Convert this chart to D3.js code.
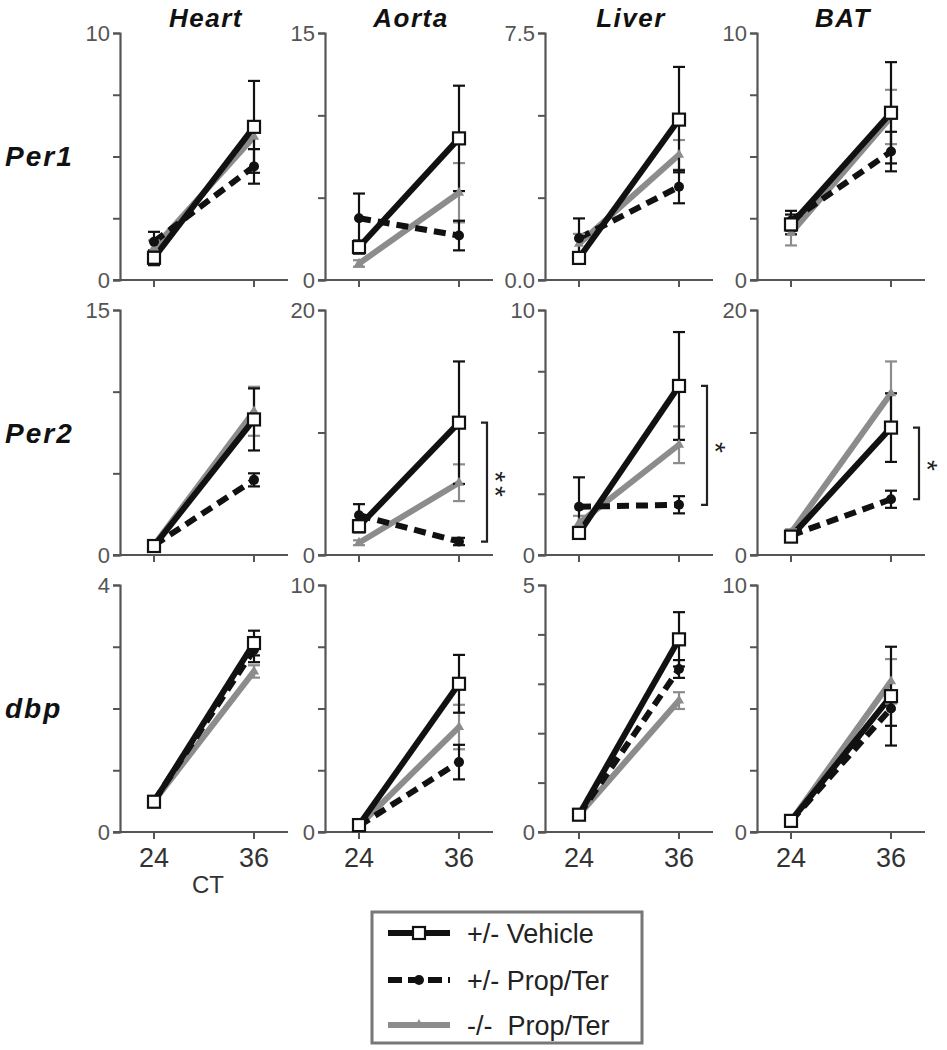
<!DOCTYPE html>
<html>
<head>
<meta charset="utf-8">
<script src="https://cdn.jsdelivr.net/npm/d3@7"></script>
<style>
  body { margin: 0; background: #fff; }
  svg { display: block; font-family: "Liberation Sans", Arial, Helvetica, sans-serif; }
</style>
</head>
<body>
<svg id="chart" width="947" height="1050"></svg>
<script>
// clock gene expression at CT24 / CT36, 3 genes x 4 tissues

const tissues = ['Heart', 'Aorta', 'Liver', 'BAT'];
const genes = ['Per1', 'Per2', 'dbp'];
const times = [24, 36];

// y axis max and tick step, panel by panel (row = gene, col = tissue)
const yMax  = [10, 15, 7.5, 10,   15, 20, 10, 20,   4, 10, 5, 10];
const yStep = [2.5, 5, 2.5, 2.5,  5, 10, 2.5, 10,   1, 2.5, 1, 2.5];

// means and SEM at [CT24, CT36]
const vehMean  = [[0.9, 6.2], [2.0, 8.6], [0.67, 4.87], [2.25, 6.77],
                  [0.55, 8.3], [2.35, 10.8], [0.9, 6.9], [1.5, 10.4],
                  [0.49, 3.06], [0.28, 6.0], [0.35, 3.9], [0.45, 5.5]];
const vehSem   = [[0.3, 1.86], [0.4, 3.2], [0.15, 1.6], [0.4, 2.05],
                  [0.2, 1.9], [0.5, 5.0], [0.2, 2.2], [0.3, 2.8],
                  [0.05, 0.2], [0.1, 1.17], [0.05, 0.55], [0.1, 2.0]];
const propMean = [[1.55, 4.6], [3.75, 2.7], [1.27, 2.83], [2.4, 5.2],
                  [0.6, 4.6], [3.25, 1.1], [1.97, 2.05], [1.6, 4.55],
                  [0.5, 2.95], [0.25, 2.83], [0.35, 3.3], [0.45, 5.0]];
const propSem  = [[0.4, 0.7], [1.5, 0.9], [0.6, 0.5], [0.4, 0.8],
                  [0.2, 0.4], [0.9, 0.3], [1.2, 0.35], [0.3, 0.7],
                  [0.05, 0.2], [0.1, 0.7], [0.05, 0.18], [0.1, 0.7]];
const koMean   = [[1.3, 5.8], [1.0, 5.3], [1.1, 3.8], [1.9, 6.6],
                  [0.6, 8.8], [1.0, 5.9], [1.3, 4.5], [1.8, 13.2],
                  [0.5, 2.6], [0.25, 4.25], [0.35, 2.66], [0.45, 6.1]];
const koSem    = [[0.3, 0.5], [0.2, 1.8], [0.3, 0.45], [0.5, 1.1],
                  [0.2, 1.5], [0.2, 1.5], [0.3, 0.75], [0.3, 2.6],
                  [0.05, 0.1], [0.1, 0.9], [0.05, 0.17], [0.1, 0.9]];

// significance between vehicle and prop/ter at CT36
const sigMarks = ['', '', '', '', '', '**', '*', '*', '', '', '', ''];

const legendLabels = ['+/- Vehicle', '+/- Prop/Ter', '-/-  Prop/Ter'];

/*************************************************************/

const svg = d3.select('#chart');

// layout of the grid
const colX = [120, 325, 545, 757];   // y axis position per column
const rowTop = [33, 310, 585];
const rowBottom = [280, 555, 832];

const black = '#111', grey = '#8c8c8c', axisCol = '#555';

const series = [
  { key: 'ko',   mean: koMean,   sem: koSem,   color: grey,  dash: null },
  { key: 'prop', mean: propMean, sem: propSem, color: black, dash: '12,7' },
  { key: 'veh',  mean: vehMean,  sem: vehSem,  color: black, dash: null }
];

function drawMarker(g, key, x, y) {
  if (key === 'veh') {
    g.append('rect')
      .attr('x', x - 6).attr('y', y - 6)
      .attr('width', 12).attr('height', 12)
      .attr('fill', '#fff').attr('stroke', black).attr('stroke-width', 2.2);
  } else if (key === 'prop') {
    g.append('circle')
      .attr('cx', x).attr('cy', y).attr('r', 5)
      .attr('fill', black);
  } else {
    g.append('path')
      .attr('d', d3.symbol(d3.symbolTriangle, 45)())
      .attr('transform', `translate(${x},${y})`)
      .attr('fill', grey);
  }
}

// column titles
tissues.forEach((t, c) => {
  svg.append('text')
    .attr('x', colX[c] + 86).attr('y', 27)
    .attr('text-anchor', 'middle')
    .attr('font-size', '26px').attr('font-weight', 'bold').attr('font-style', 'italic')
    .attr('letter-spacing', '1.5px')
    .attr('fill', '#111')
    .text(t);
});

// row titles
genes.forEach((g, r) => {
  svg.append('text')
    .attr('x', 5).attr('y', rowTop[r] + 133)
    .attr('font-size', '28px').attr('font-weight', 'bold').attr('font-style', 'italic')
    .attr('letter-spacing', '2px')
    .attr('fill', '#111')
    .text(g);
});

genes.forEach((gene, r) => {
  tissues.forEach((tissue, c) => {
    const i = r * 4 + c;
    const ax = colX[c];
    const g = svg.append('g');

    const x = d3.scaleLinear().domain(times).range([ax + 34, ax + 134]);
    const y = d3.scaleLinear().domain([0, yMax[i]]).range([rowBottom[r], rowTop[r]]);

    // y axis: label only the ends
    const ticks = d3.range(0, yMax[i] + 1e-9, yStep[i]);
    const fmt = yMax[i] % 1 ? d3.format('.1f') : d3.format('d');
    const yAxis = g.append('g')
      .attr('transform', `translate(${ax},0)`)
      .call(d3.axisLeft(y).tickValues(ticks).tickSize(7).tickPadding(3)
        .tickFormat(d => (d === 0 || d === yMax[i]) ? fmt(d) : ''));
    yAxis.select('.domain').attr('stroke', axisCol).attr('stroke-width', 2.2);
    yAxis.selectAll('.tick line').attr('stroke', axisCol).attr('stroke-width', 2);
    yAxis.selectAll('.tick text').attr('font-size', '22px').attr('fill', '#555')
      .attr('font-family', '"Liberation Sans", Arial, sans-serif');

    // x axis
    g.append('line')
      .attr('x1', ax - 7).attr('x2', ax + 168)
      .attr('y1', rowBottom[r]).attr('y2', rowBottom[r])
      .attr('stroke', axisCol).attr('stroke-width', 2.2);
    times.forEach(t => {
      g.append('line')
        .attr('x1', x(t)).attr('x2', x(t))
        .attr('y1', rowBottom[r]).attr('y2', rowBottom[r] + 7)
        .attr('stroke', axisCol).attr('stroke-width', 2);
      if (r === genes.length - 1) {
        g.append('text')
          .attr('x', x(t)).attr('y', rowBottom[r] + 35)
          .attr('text-anchor', 'middle')
          .attr('font-size', '27px').attr('fill', '#333')
          .text(t);
      }
    });

    // lines
    const line = d3.line().x((d, k) => x(times[k])).y(d => y(d));
    series.forEach(s => {
      g.append('path')
        .datum(s.mean[i])
        .attr('d', line)
        .attr('fill', 'none')
        .attr('stroke', s.color)
        .attr('stroke-width', 6)
        .attr('stroke-dasharray', s.dash);
    });

    // error bars
    series.forEach(s => {
      s.mean[i].forEach((m, k) => {
        const xx = x(times[k]), lo = y(m - s.sem[i][k]), hi = y(m + s.sem[i][k]);
        g.append('line').attr('x1', xx).attr('x2', xx).attr('y1', lo).attr('y2', hi)
          .attr('stroke', s.color).attr('stroke-width', 2.2);
        [lo, hi].forEach(yy => {
          g.append('line').attr('x1', xx - 6).attr('x2', xx + 6).attr('y1', yy).attr('y2', yy)
            .attr('stroke', s.color).attr('stroke-width', 2.2);
        });
      });
    });

    // markers
    series.forEach(s => {
      s.mean[i].forEach((m, k) => drawMarker(g, s.key, x(times[k]), y(m)));
    });

    // significance bracket at CT36
    if (sigMarks[i]) {
      const bx = ax + 162;
      const y1 = y(vehMean[i][1]), y2 = y(propMean[i][1]);
      g.append('path')
        .attr('d', `M${bx - 6},${y1}H${bx}V${y2}H${bx - 6}`)
        .attr('fill', 'none').attr('stroke', '#222').attr('stroke-width', 2.2);
      // stars read top to bottom, so the text is turned a quarter;
      // dy puts the middle of the glyph on the turning point
      const mid = (y1 + y2) / 2 + 4, sx = bx + 15;
      g.append('text')
        .attr('transform', `translate(${sx},${mid}) rotate(90)`)
        .attr('text-anchor', 'middle')
        .attr('dy', '0.57em')
        .attr('font-size', '28px').attr('fill', '#222')
        .attr('letter-spacing', '4px')
        .text(sigMarks[i]);
    }
  });
});

// x axis title
svg.append('text')
  .attr('x', 208).attr('y', 893)
  .attr('text-anchor', 'middle')
  .attr('font-size', '24px').attr('fill', '#333')
  .text('CT');

// legend
const lg = svg.append('g');
lg.append('rect')
  .attr('x', 372).attr('y', 912).attr('width', 270).attr('height', 131)
  .attr('fill', '#fff').attr('stroke', '#777').attr('stroke-width', 3);

const legendKeys = ['veh', 'prop', 'ko'];
const legendY = [933, 980, 1025];
legendKeys.forEach((key, k) => {
  const s = series.find(d => d.key === key);
  lg.append('line')
    .attr('x1', 388).attr('x2', 450).attr('y1', legendY[k]).attr('y2', legendY[k])
    .attr('stroke', s.color).attr('stroke-width', 6)
    .attr('stroke-dasharray', key === 'prop' ? '14,6' : null);
  drawMarker(lg, key, 419, legendY[k]);
  lg.append('text')
    .attr('x', 467).attr('y', legendY[k] + 10)
    .attr('font-size', '27px').attr('fill', '#222')
    .attr('xml:space', 'preserve')
    .style('white-space', 'pre')
    .text(legendLabels[k]);
});
</script>
</body>
</html>
